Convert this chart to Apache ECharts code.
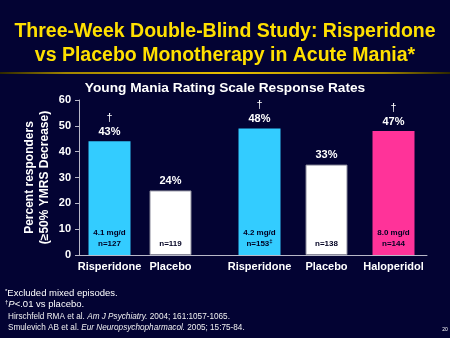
<!DOCTYPE html>
<html><head><meta charset="utf-8">
<script src="https://cdn.jsdelivr.net/npm/echarts@6/dist/echarts.min.js"></script>
<style>html,body{margin:0;padding:0;background:#030333;}#c{width:450px;height:338px;}</style>
</head><body><div id="c"></div>
<script>
// ---- data ----
const group1Categories = ['Risperidone', 'Placebo'];
const group2Categories = ['Risperidone', 'Placebo', 'Haloperidol'];
const group1Values = [44, 25];
const group2Values = [49, 35, 48];
const group1TopLabels = ['43%', '24%'];
const group2TopLabels = ['48%', '33%', '47%'];
const group1Significant = [true, false];
const group2Significant = [true, false, true];
const group1InsideLabels = ['4.1 mg/d\nn=127', 'n=119'];
const group2InsideLabels = ['4.2 mg/d\nn=153{sup|‡}', 'n=138', '8.0 mg/d\nn=144'];
const group1Colors = ['#33CCFF', '#FFFFFF'];
const group2Colors = ['#33CCFF', '#FFFFFF', '#FF3399'];
const yTicks = [0, 10, 20, 30, 40, 50, 60];

const FONT = 'Liberation Sans, Arial, sans-serif';
const chart = echarts.init(document.getElementById('c'), null, {renderer: 'canvas'});

function barData(values, colors) {
  return values.map((v, i) => ({
    value: v,
    itemStyle: {color: colors[i], borderColor: colors[i] === '#FFFFFF' ? '#8a8a9a' : colors[i], borderWidth: colors[i] === '#FFFFFF' ? 1 : 0}
  }));
}
function topLabel(labels, sig) {
  return {
    show: true, position: 'top', distance: 3,
    formatter: p => (sig[p.dataIndex] ? '{d|†}\n' : '') + '{v|' + labels[p.dataIndex] + '}',
    rich: {
      d: {color: '#FFFFFF', fontSize: 11, lineHeight: 14, fontFamily: FONT},
      v: {color: '#FFFFFF', fontSize: 11, fontWeight: 'bold', lineHeight: 13, fontFamily: FONT}
    }
  };
}
function insideLabel(labels) {
  return {
    show: true, position: 'insideBottom', distance: 6,
    formatter: p => labels[p.dataIndex],
    color: '#000022', fontSize: 8, fontWeight: 'bold', lineHeight: 11, fontFamily: FONT,
    rich: {sup: {fontSize: 6, fontWeight: 'bold', color: '#000022', verticalAlign: 'top', lineHeight: 11, padding: [0,0,4,0]}}
  };
}

const axisCommonX = {
  type: 'category',
  axisLine: {show: true, lineStyle: {color: '#b8b8c8', width: 1}},
  axisTick: {show: false},
  axisLabel: {color: '#FFFFFF', fontSize: 11, fontWeight: 'bold', fontFamily: FONT, margin: 6, interval: 0},
  splitLine: {show: false}
};

const option = {
  backgroundColor: '#030333',
  animation: false,
  grid: [
    {left: 79, top: 100, width: 183, height: 155},
    {left: 226, top: 100, width: 201, height: 155}
  ],
  xAxis: [
    Object.assign({}, axisCommonX, {gridIndex: 0, data: group1Categories.concat([''])}),
    Object.assign({}, axisCommonX, {gridIndex: 1, data: group2Categories})
  ],
  yAxis: [
    {
      type: 'value', gridIndex: 0, min: yTicks[0], max: yTicks[yTicks.length - 1], interval: 10,
      axisLine: {show: true, lineStyle: {color: '#b8b8c8', width: 1}},
      axisTick: {show: true, length: 4, lineStyle: {color: '#b8b8c8'}},
      axisLabel: {color: '#FFFFFF', fontSize: 11, fontWeight: 'bold', fontFamily: FONT, margin: 8},
      splitLine: {show: false},
      name: 'Percent responders\n(≥50% YMRS Decrease)',
      nameLocation: 'middle', nameRotate: 90, nameGap: 27,
      nameTextStyle: {color: '#FFFFFF', fontSize: 12, fontWeight: 'bold', lineHeight: 15, fontFamily: FONT}
    },
    {
      type: 'value', gridIndex: 1, min: yTicks[0], max: yTicks[yTicks.length - 1], interval: 10,
      show: false, splitLine: {show: false}
    }
  ],
  series: [
    {type: 'bar', xAxisIndex: 0, yAxisIndex: 0, barWidth: 42, data: barData(group1Values, group1Colors), label: topLabel(group1TopLabels, group1Significant), z: 2},
    {type: 'bar', xAxisIndex: 0, yAxisIndex: 0, barWidth: 42, barGap: '-100%', data: group1Values, itemStyle: {color: 'rgba(0,0,0,0)'}, label: insideLabel(group1InsideLabels), z: 3},
    {type: 'bar', xAxisIndex: 1, yAxisIndex: 1, barWidth: 42, data: barData(group2Values, group2Colors), label: topLabel(group2TopLabels, group2Significant), z: 2},
    {type: 'bar', xAxisIndex: 1, yAxisIndex: 1, barWidth: 42, barGap: '-100%', data: group2Values, itemStyle: {color: 'rgba(0,0,0,0)'}, label: insideLabel(group2InsideLabels), z: 3}
  ],
  graphic: [
    {type: 'text', x: 225, y: 32, style: {text: 'Three-Week Double-Blind Study: Risperidone', fill: '#FFE000', font: 'bold 19.5px ' + FONT, align: 'center', verticalAlign: 'middle'}},
    {type: 'text', x: 225, y: 56, style: {text: 'vs Placebo Monotherapy in Acute Mania*', fill: '#FFE000', font: 'bold 19.5px ' + FONT, align: 'center', verticalAlign: 'middle'}},
    {type: 'line', shape: {x1: 0, y1: 73, x2: 450, y2: 73}, style: {lineWidth: 2, stroke: {type: 'linear', x: 0, y: 0, x2: 1, y2: 0, colorStops: [{offset: 0, color: '#2a2400'}, {offset: 0.15, color: '#a08400'}, {offset: 0.5, color: '#e8c000'}, {offset: 0.85, color: '#a08400'}, {offset: 1, color: '#2a2400'}]}}},
    {type: 'text', x: 225, y: 88, style: {text: 'Young Mania Rating Scale Response Rates', fill: '#FFFFFF', font: 'bold 13.7px ' + FONT, align: 'center', verticalAlign: 'middle'}},
    {type: 'text', x: 5, y: 293, style: {text: '{s|*}Excluded mixed episodes.', fill: '#FFFFFF', font: '9.5px ' + FONT, verticalAlign: 'middle', rich: {s: {fontSize: 6, fill: '#FFFFFF', verticalAlign: 'top'}}}},
    {type: 'text', x: 5, y: 304, style: {text: '{s|†}{i|P}<.01 vs placebo.', fill: '#FFFFFF', font: '9.5px ' + FONT, verticalAlign: 'middle', rich: {s: {fontSize: 6, fill: '#FFFFFF', verticalAlign: 'top'}, i: {fontStyle: 'italic', fontSize: 9.5, fill: '#FFFFFF'}}}},
    {type: 'text', x: 8, y: 317, style: {text: 'Hirschfeld RMA et al. {i|Am J Psychiatry.} 2004; 161:1057-1065.', fill: '#F0F0F0', font: '8.2px ' + FONT, verticalAlign: 'middle', rich: {i: {fontStyle: 'italic', fontSize: 8.2, fill: '#F0F0F0'}}}},
    {type: 'text', x: 8, y: 328, style: {text: 'Smulevich AB et al. {i|Eur Neuropsychopharmacol.} 2005; 15:75-84.', fill: '#F0F0F0', font: '8.2px ' + FONT, verticalAlign: 'middle', rich: {i: {fontStyle: 'italic', fontSize: 8.2, fill: '#F0F0F0'}}}},
    {type: 'text', x: 445, y: 330, style: {text: '20', fill: '#FFFFFF', font: '5px ' + FONT, align: 'center', verticalAlign: 'middle'}}
  ]
};
chart.setOption(option);
</script></body></html>
